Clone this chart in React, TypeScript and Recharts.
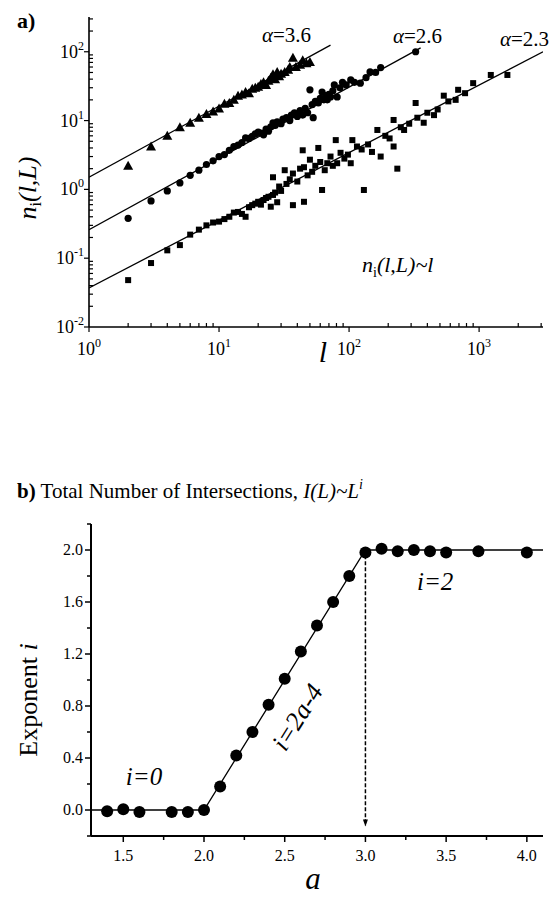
import React from "react";
import { ScatterChart, Scatter, XAxis, YAxis } from "recharts";

const SERIF = "'Liberation Serif', 'Times New Roman', serif";

// ---------- panel a) : n_i(l,L) against l, log-log ----------
// [l, n_i]
const triangles36: [number, number][] = [
  [2, 2.2], [3, 4.2], [4, 6.0], [5, 8.0], [6, 9.3], [7, 11], [8, 12.5], [9, 13.5],
  [10, 15], [11, 17.5], [12, 18], [13, 20], [14, 23], [15, 24], [16, 26], [17, 25],
  [18, 29], [19, 30], [20, 31], [21, 34], [22, 36], [23, 33], [24, 38], [25, 42],
  [26, 47], [27, 40], [28, 51], [29, 44], [30, 48], [32, 51], [34, 55], [35, 60],
  [37, 82], [39, 60], [42, 65], [44, 75], [47, 68], [50, 71],
];

const circles26: [number, number][] = [
  [2, 0.38], [3, 0.68], [4, 0.95], [5, 1.24], [6, 1.6], [7, 1.9], [8, 2.3], [9, 2.6],
  [10, 3.0], [11, 3.2], [12, 3.7], [13, 4.2], [14, 4.4], [15, 4.8], [16, 5.6], [17, 5.5],
  [18, 5.9], [19, 6.4], [20, 6.8], [21, 6.6], [22, 6.2], [23, 7.5], [24, 7.0], [25, 8.1],
  [26, 9.3], [27, 8.5], [28, 9.6], [30, 9.0], [31, 10.5], [33, 11], [35, 10], [36, 12],
  [38, 13], [40, 11.5], [42, 14], [44, 12], [46, 15], [48, 13], [50, 28], [52, 17],
  [53, 11], [55, 19], [58, 18], [60, 21], [62, 26], [64, 20], [66, 23], [68, 20],
  [70, 24], [72, 22], [75, 27], [77, 33], [81, 22], [85, 30], [89, 36], [95, 33],
  [103, 39], [110, 36], [122, 35], [135, 42], [145, 51], [160, 50], [175, 59], [325, 100],
];

const squares23: [number, number][] = [
  [2, 0.048], [3, 0.085], [4, 0.13], [5, 0.155], [6, 0.22], [7, 0.26], [8, 0.3], [9, 0.33],
  [10, 0.34], [11, 0.37], [12, 0.4], [13, 0.46], [14, 0.47], [15, 0.44], [16, 0.4], [17, 0.55],
  [18, 0.59], [19, 0.62], [20, 0.66], [21, 0.6], [22, 0.7], [23, 0.75], [24, 0.78], [25, 0.56],
  [26, 0.83], [26, 1.5], [27, 0.9], [28, 0.65], [29, 1.1], [30, 0.95], [32, 1.9], [33, 1.2],
  [35, 1.4], [37, 1.7], [37, 0.59], [40, 1.3], [42, 2.0], [44, 3.7], [45, 2.1], [45, 0.66],
  [48, 1.6], [50, 2.7], [52, 1.8], [55, 2.2], [58, 4.0], [60, 2.5], [62, 0.98], [65, 1.9],
  [68, 2.4], [72, 3.0], [75, 2.2], [79, 5.2], [81, 2.4], [86, 3.4], [92, 2.8], [98, 3.2],
  [103, 2.4], [106, 5.2], [115, 4.2], [125, 3.8], [130, 0.98], [140, 4.5], [150, 3.5], [165, 7.3],
  [175, 3.0], [190, 6.0], [205, 5.5], [220, 4.2], [220, 10.2], [235, 2.0], [250, 8.0], [265, 7.3],
  [290, 9], [325, 18], [335, 11], [375, 9.3], [400, 13], [450, 12], [480, 14.5], [535, 23],
  [580, 19], [660, 20], [690, 28], [780, 25], [900, 35], [1230, 46], [1650, 46],
];

// fitted lines, end points [l, n_i]
const fit36: [number, number][] = [[1, 1.5], [72, 125]];
const fit26: [number, number][] = [[1, 0.26], [355, 114]];
const fit23: [number, number][] = [[1, 0.037], [3100, 100]];

const xTicksA = [
  1, 2, 3, 4, 5, 6, 7, 8, 9, 10, 20, 30, 40, 50, 60, 70, 80, 90,
  100, 200, 300, 400, 500, 600, 700, 800, 900, 1000, 2000, 3000,
];
const yTicksA = [
  0.01, 0.02, 0.03, 0.04, 0.05, 0.06, 0.07, 0.08, 0.09,
  0.1, 0.2, 0.3, 0.4, 0.5, 0.6, 0.7, 0.8, 0.9,
  1, 2, 3, 4, 5, 6, 7, 8, 9, 10, 20, 30, 40, 50, 60, 70, 80, 90, 100, 200, 300,
];

// ---------- panel b) : exponent i against a ----------
const aValues = [1.4, 1.5, 1.6, 1.8, 1.9, 2.0, 2.1, 2.2, 2.3, 2.4, 2.5, 2.6, 2.7, 2.8, 2.9, 3.0, 3.1, 3.2, 3.3, 3.4, 3.5, 3.7, 4.0];
const iValues = [-0.01, 0.005, -0.015, -0.015, -0.015, 0.0, 0.18, 0.42, 0.6, 0.81, 1.01, 1.22, 1.42, 1.6, 1.8, 1.98, 2.01, 1.99, 2.0, 1.99, 1.98, 1.99, 1.98];
const fitA = [1.3, 2.0, 3.0, 4.1];
const fitI = [0, 0, 2.0, 2.0];
const arrowA = [3.0, 3.0];
const arrowI = [1.96, -0.12];

const xTicksB = [1.5, 1.75, 2.0, 2.25, 2.5, 2.75, 3.0, 3.25, 3.5, 3.75, 4.0];
const yTicksB = [-0.2, 0, 0.2, 0.4, 0.6, 0.8, 1.0, 1.2, 1.4, 1.6, 1.8, 2.0, 2.2];

const pairs = (rows: [number, number][]) => rows.map(([x, y]) => ({ x, y }));
const zip = (xs: number[], ys: number[]) => xs.map((x, i) => ({ x, y: ys[i] }));

// ---------- marker shapes ----------
const Triangle = (p: any) => (
  <polygon points={`${p.cx},${p.cy - 5} ${p.cx - 5},${p.cy + 4} ${p.cx + 5},${p.cy + 4}`} fill="#000" />
);
const SmallDot = (p: any) => <circle cx={p.cx} cy={p.cy} r={3.6} fill="#000" />;
const Square = (p: any) => <rect x={p.cx - 3} y={p.cy - 3} width={6} height={6} fill="#000" />;
const BigDot = (p: any) => <circle cx={p.cx} cy={p.cy} r={6} fill="#000" />;
const Nothing = () => <g />;
const ArrowHead = (p: any) =>
  p.payload && p.payload.y < 0 ? (
    <polygon points={`${p.cx - 2.5},${p.cy - 6} ${p.cx + 2.5},${p.cy - 6} ${p.cx},${p.cy + 1}`} fill="#000" />
  ) : (
    <g />
  );

// ---------- ticks ----------
const LogTickX = ({ x, y, payload }: any) => {
  const e = Math.log10(payload.value);
  const p = Math.round(e);
  const major = Math.abs(e - p) < 1e-6;
  return (
    <g>
      <line x1={x} x2={x} y1={y} y2={major ? y + 5 : y - 4} stroke="#000" strokeWidth={1.2} />
      {major && (
        <text x={x} y={y + 28} textAnchor="middle" fontFamily={SERIF} fontSize={18} fill="#000">
          10<tspan dy={-8} fontSize={12}>{p}</tspan>
        </text>
      )}
    </g>
  );
};

const LogTickY = ({ x, y, payload }: any) => {
  const e = Math.log10(payload.value);
  const p = Math.round(e);
  const major = Math.abs(e - p) < 1e-6;
  return (
    <g>
      <line x1={x} x2={major ? x - 5 : x + 4} y1={y} y2={y} stroke="#000" strokeWidth={1.2} />
      {major && (
        <text x={x - 5} y={y + 6} textAnchor="end" fontFamily={SERIF} fontSize={18} fill="#000">
          10<tspan dy={-8} fontSize={12}>{p}</tspan>
        </text>
      )}
    </g>
  );
};

const LinTickX = ({ x, y, payload }: any) => {
  const v = payload.value;
  const major = Math.abs(v * 2 - Math.round(v * 2)) < 1e-6;
  return (
    <g>
      <line x1={x} x2={x} y1={y} y2={y + (major ? 6 : 4)} stroke="#000" strokeWidth={1.5} />
      {major && (
        <text x={x} y={y + 25} textAnchor="middle" fontFamily={SERIF} fontSize={16} fill="#000">
          {v.toFixed(1)}
        </text>
      )}
    </g>
  );
};

const LinTickY = ({ x, y, payload }: any) => {
  const v = payload.value;
  const major = Math.abs(v / 0.4 - Math.round(v / 0.4)) < 1e-6;
  return (
    <g>
      <line x1={x} x2={x - (major ? 6 : 4)} y1={y} y2={y} stroke="#000" strokeWidth={1.5} />
      {major && (
        <text x={x - 8} y={y + 5} textAnchor="end" fontFamily={SERIF} fontSize={16} fill="#000">
          {v.toFixed(1)}
        </text>
      )}
    </g>
  );
};

const lineStyle = { stroke: "#000", strokeWidth: 1.3 };

const PanelA = () => (
  <ScatterChart width={556} height={380} margin={{ top: 17, right: 13, bottom: 0, left: 0 }}>
    <XAxis
      dataKey="x"
      type="number"
      scale="log"
      domain={[1, 3100]}
      allowDataOverflow
      ticks={xTicksA}
      interval={0}
      height={53}
      tickSize={0}
      tickMargin={0}
      tickLine={false}
      tick={LogTickX}
      axisLine={{ stroke: "#000", strokeWidth: 1.6 }}
    />
    <YAxis
      dataKey="y"
      type="number"
      scale="log"
      domain={[0.01, 320]}
      allowDataOverflow
      ticks={yTicksA}
      interval={0}
      width={89}
      tickSize={0}
      tickMargin={0}
      tickLine={false}
      tick={LogTickY}
      axisLine={{ stroke: "#000", strokeWidth: 1.6 }}
    />
    <Scatter data={pairs(fit36)} line={lineStyle} lineType="joint" shape={Nothing} isAnimationActive={false} />
    <Scatter data={pairs(fit26)} line={lineStyle} lineType="joint" shape={Nothing} isAnimationActive={false} />
    <Scatter data={pairs(fit23)} line={lineStyle} lineType="joint" shape={Nothing} isAnimationActive={false} />
    <Scatter data={pairs(squares23)} shape={Square} isAnimationActive={false} />
    <Scatter data={pairs(circles26)} shape={SmallDot} isAnimationActive={false} />
    <Scatter data={pairs(triangles36)} shape={Triangle} isAnimationActive={false} />
  </ScatterChart>
);

const PanelB = () => (
  <ScatterChart width={556} height={433} margin={{ top: 54, right: 13, bottom: 0, left: 0 }}>
    <XAxis
      dataKey="x"
      type="number"
      domain={[1.3, 4.1]}
      allowDataOverflow
      ticks={xTicksB}
      interval={0}
      height={67}
      tickSize={0}
      tickMargin={0}
      tickLine={false}
      tick={LinTickX}
      axisLine={{ stroke: "#000", strokeWidth: 2 }}
    />
    <YAxis
      dataKey="y"
      type="number"
      domain={[-0.2, 2.2]}
      allowDataOverflow
      ticks={yTicksB}
      interval={0}
      width={91}
      tickSize={0}
      tickMargin={0}
      tickLine={false}
      tick={LinTickY}
      axisLine={{ stroke: "#000", strokeWidth: 2 }}
    />
    <Scatter
      data={zip(arrowA, arrowI)}
      line={{ stroke: "#000", strokeWidth: 1.5, strokeDasharray: "4 2" }}
      lineType="joint"
      shape={ArrowHead}
      isAnimationActive={false}
    />
    <Scatter data={zip(fitA, fitI)} line={lineStyle} lineType="joint" shape={Nothing} isAnimationActive={false} />
    <Scatter data={zip(aValues, iValues)} shape={BigDot} isAnimationActive={false} />
  </ScatterChart>
);

const Labels = () => (
  <svg
    width={556}
    height={903}
    style={{ position: "absolute", left: 0, top: 0, pointerEvents: "none" }}
    fontFamily={SERIF}
    fill="#000"
  >
    <text x={17} y={28} fontSize={22} fontWeight="bold">a)</text>
    <text x={262} y={42} fontSize={21}>
      <tspan fontStyle="italic">α</tspan>=3.6
    </text>
    <text x={393} y={43} fontSize={21}>
      <tspan fontStyle="italic">α</tspan>=2.6
    </text>
    <text x={500} y={46} fontSize={21}>
      <tspan fontStyle="italic">α</tspan>=2.3
    </text>
    <text x={362} y={272} fontSize={22} fontStyle="italic">
      n<tspan fontSize={14} fontStyle="normal" dy={5}>i</tspan>
      <tspan dy={-5}>(l,L)~l</tspan>
    </text>
    <text transform="translate(36,188) rotate(-90)" textAnchor="middle" fontSize={26} fontStyle="italic">
      n<tspan fontSize={16} fontStyle="normal" dy={5}>i</tspan>
      <tspan dy={-5}>(l,L)</tspan>
    </text>
    <text x={323} y={362} textAnchor="middle" fontSize={30} fontStyle="italic">l</text>

    <text x={17} y={498} fontSize={21}>
      <tspan fontWeight="bold">b)</tspan> Total Number of Intersections,{" "}
      <tspan fontStyle="italic">I(L)~L</tspan>
      <tspan fontStyle="italic" fontSize={14} dy={-9}>i</tspan>
    </text>
    <text x={144} y={785} textAnchor="middle" fontSize={25} fontStyle="italic">i=0</text>
    <text x={417} y={590} fontSize={25} fontStyle="italic">i=2</text>
    <text transform="translate(297,717) rotate(-58)" y={9} textAnchor="middle" fontSize={26} fontStyle="italic">
      i=2a-4
    </text>
    <text transform="translate(37,700) rotate(-90)" textAnchor="middle" fontSize={26}>
      Exponent <tspan fontStyle="italic">i</tspan>
    </text>
    <text x={313} y={889} textAnchor="middle" fontSize={31} fontStyle="italic">a</text>
  </svg>
);

export default function App() {
  return (
    <div style={{ position: "absolute", left: 0, top: 0, width: 556, height: 903, background: "#fff" }}>
      <div style={{ position: "absolute", left: 0, top: 0 }}>
        <PanelA />
      </div>
      <div style={{ position: "absolute", left: 0, top: 470 }}>
        <PanelB />
      </div>
      <Labels />
    </div>
  );
}
